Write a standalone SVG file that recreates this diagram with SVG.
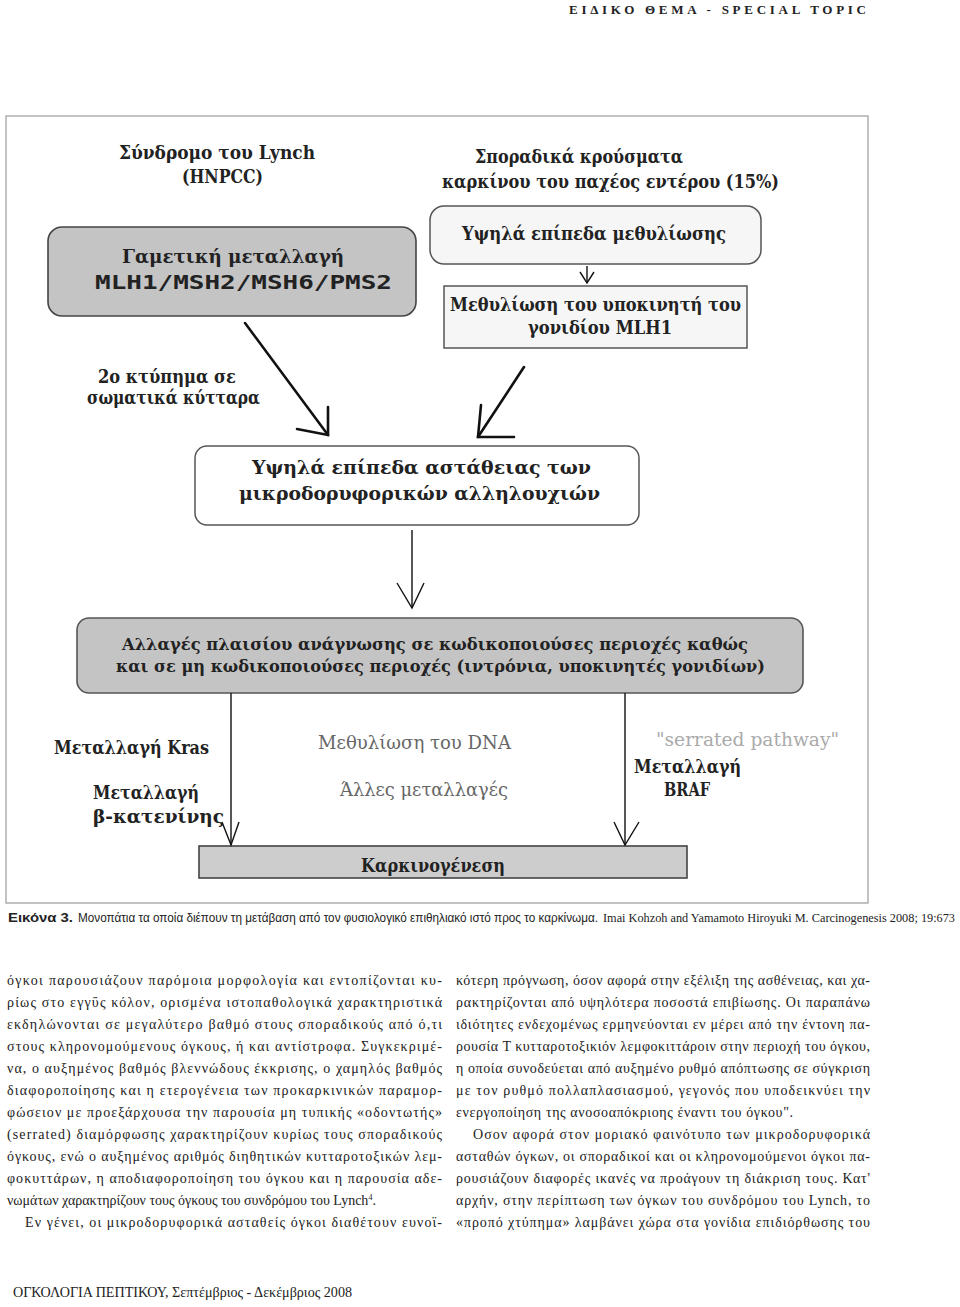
<svg xmlns="http://www.w3.org/2000/svg" width="960" height="1307" viewBox="0 0 960 1307">
<style>
.dt{font-family:"DejaVu Serif","Liberation Serif",serif;font-weight:bold;font-size:18px;fill:#222}
.mono{font-family:"DejaVu Sans Mono","Liberation Mono",monospace;font-weight:bold;font-size:20px;fill:#222}
.gr{font-family:"DejaVu Serif","Liberation Serif",serif;font-size:18px;fill:#666}
.lg{font-family:"DejaVu Serif","Liberation Serif",serif;font-size:18px;fill:#aaa}
.body{font-family:"Liberation Serif","Times New Roman",serif;font-size:14px;fill:#222}
.gbox{fill:#c4c4c4;stroke:#444;stroke-width:1.6}
.lbox{fill:#f6f6f6;stroke:#555;stroke-width:1.5}
.wbox{fill:#ffffff;stroke:#555;stroke-width:1.5}
.thick{stroke:#111;stroke-width:2.6;fill:none;stroke-linecap:round}
.thin{stroke:#111;stroke-width:1.4;fill:none}
</style>
<rect width="960" height="1307" fill="#ffffff"/>
<text x="569" y="14" textLength="297" lengthAdjust="spacing" style="font-family:'Liberation Serif',serif;font-weight:bold;font-size:13px;fill:#222">ΕΙΔΙΚΟ ΘΕΜΑ  -  SPECIAL TOPIC</text>
<rect x="6" y="116" width="862" height="787" fill="none" stroke="#aaa" stroke-width="1.4"/>
<g id="lynch-title">
<text class="dt" x="119" y="159" textLength="196" lengthAdjust="spacingAndGlyphs">Σύνδρομο του Lynch</text>
<text class="dt" x="182" y="183" textLength="81" lengthAdjust="spacingAndGlyphs">(HNPCC)</text>
</g>
<g id="sporadic-title">
<text class="dt" x="475" y="163" textLength="208" lengthAdjust="spacingAndGlyphs">Σποραδικά κρούσματα</text>
<text class="dt" x="442" y="188" textLength="337" lengthAdjust="spacingAndGlyphs">καρκίνου του παχέος εντέρου (15%)</text>
</g>
<g id="high-methylation">
<rect class="lbox" x="430" y="206" width="331" height="58" rx="14"/>
<text class="dt" x="462" y="240" textLength="264" lengthAdjust="spacingAndGlyphs">Υψηλά επίπεδα μεθυλίωσης</text>
</g>
<g id="mlh1-promoter">
<rect class="lbox" x="444" y="286" width="303" height="62"/>
<text class="dt" x="450" y="311" textLength="291" lengthAdjust="spacingAndGlyphs">Μεθυλίωση του υποκινητή του</text>
<text class="dt" x="528" y="334" textLength="144" lengthAdjust="spacingAndGlyphs">γονιδίου MLH1</text>
</g>
<g id="germline">
<rect class="gbox" x="48" y="227" width="368" height="89" rx="14"/>
<text class="dt" x="122" y="263" textLength="222" lengthAdjust="spacingAndGlyphs">Γαμετική μεταλλαγή</text>
<text class="mono" x="95" y="289" textLength="297" lengthAdjust="spacingAndGlyphs">MLH1/MSH2/MSH6/PMS2</text>
</g>
<g id="second-hit">
<text class="dt" x="98" y="383" textLength="138" lengthAdjust="spacingAndGlyphs">2ο κτύπημα σε</text>
<text class="dt" x="87" y="404" textLength="173" lengthAdjust="spacingAndGlyphs">σωματικά κύτταρα</text>
</g>
<g id="msi">
<rect class="wbox" x="195" y="446" width="444" height="79" rx="12"/>
<text class="dt" x="252" y="474" textLength="339" lengthAdjust="spacingAndGlyphs">Υψηλά επίπεδα αστάθειας των</text>
<text class="dt" x="239" y="500" textLength="361" lengthAdjust="spacingAndGlyphs">μικροδορυφορικών αλληλουχιών</text>
</g>
<g id="frameshift">
<rect class="gbox" x="77" y="618" width="726" height="75" rx="12" style="stroke:#555"/>
<text class="dt" x="122" y="650" textLength="626" lengthAdjust="spacingAndGlyphs" style="font-size:17px">Αλλαγές πλαισίου ανάγνωσης σε κωδικοποιούσες περιοχές καθώς</text>
<text class="dt" x="116" y="672" textLength="649" lengthAdjust="spacingAndGlyphs" style="font-size:17px">και σε μη κωδικοποιούσες περιοχές (ιντρόνια, υποκινητές γονιδίων)</text>
</g>
<g id="kras">
<text class="dt" x="54" y="754" textLength="155" lengthAdjust="spacingAndGlyphs">Μεταλλαγή Kras</text>
<text class="dt" x="93" y="799" textLength="106" lengthAdjust="spacingAndGlyphs">Μεταλλαγή</text>
<text class="dt" x="93" y="823" textLength="131" lengthAdjust="spacingAndGlyphs">β-κατενίνης</text>
</g>
<g id="dna-methylation">
<text class="gr" x="318" y="749" textLength="193" lengthAdjust="spacingAndGlyphs">Μεθυλίωση του DNA</text>
<text class="gr" x="340" y="796" textLength="168" lengthAdjust="spacingAndGlyphs">Άλλες μεταλλαγές</text>
</g>
<g id="serrated">
<text class="lg" x="656" y="746" textLength="183" lengthAdjust="spacingAndGlyphs">"serrated pathway"</text>
<text class="dt" x="634" y="773" textLength="107" lengthAdjust="spacingAndGlyphs">Μεταλλαγή</text>
<text class="dt" x="664" y="796" textLength="46" lengthAdjust="spacingAndGlyphs">BRAF</text>
</g>
<g id="carcinogenesis">
<rect class="gbox" x="199" y="846" width="488" height="32" style="fill:#cdcdcd"/>
<text class="dt" x="361" y="872" textLength="144" lengthAdjust="spacingAndGlyphs">Καρκινογένεση</text>
</g>
<g id="connectors">
<line class="thin" x1="587" y1="266" x2="587" y2="283"/>
<polyline class="thin" points="580,272 587,283 594,272"/>
<line class="thick" x1="245" y1="323" x2="328" y2="435"/>
<polyline class="thick" points="328,407 328,435 297,429"/>
<line class="thick" x1="524" y1="367" x2="478" y2="437"/>
<polyline class="thick" points="481,405 478,437 514,437"/>
<line class="thin" x1="412" y1="530" x2="412" y2="608"/>
<polyline class="thin" points="397,583 412,608 424,583"/>
<line class="thin" x1="231" y1="693" x2="231" y2="845"/>
<polyline class="thin" points="222,822 231,845 239,822"/>
<line class="thin" x1="625" y1="693" x2="625" y2="845"/>
<polyline class="thin" points="614,822 625,845 639,822"/>
</g>
<text x="8" y="922" textLength="65" lengthAdjust="spacingAndGlyphs" style="font-family:'Liberation Sans',sans-serif;font-weight:bold;font-size:13px;fill:#222">Εικόνα 3.</text>
<text x="78" y="922" textLength="520" lengthAdjust="spacingAndGlyphs" style="font-family:'Liberation Sans',sans-serif;font-size:12.5px;fill:#222">Μονοπάτια τα οποία διέπουν τη μετάβαση από τον φυσιολογικό επιθηλιακό ιστό προς το καρκίνωμα.</text>
<text x="603" y="922" textLength="352" lengthAdjust="spacingAndGlyphs" style="font-family:'Liberation Serif',serif;font-size:12px;fill:#222">Imai Kohzoh and Yamamoto Hiroyuki M. Carcinogenesis 2008; 19:673</text>
<g class="body">
<text class="body" x="7" y="985" textLength="435" lengthAdjust="spacing">όγκοι παρουσιάζουν παρόμοια μορφολογία και εντοπίζονται κυ-</text>
<text class="body" x="7" y="1007" textLength="435" lengthAdjust="spacing">ρίως στο εγγΰς κόλον, ορισμένα ιστοπαθολογικά χαρακτηριστικά</text>
<text class="body" x="7" y="1029" textLength="435" lengthAdjust="spacing">εκδηλώνονται σε μεγαλύτερο βαθμό στους σποραδικούς από ό,τι</text>
<text class="body" x="7" y="1051" textLength="435" lengthAdjust="spacing">στους κληρονομούμενους όγκους, ή και αντίστροφα. Συγκεκριμέ-</text>
<text class="body" x="7" y="1073" textLength="435" lengthAdjust="spacing">να, ο αυξημένος βαθμός βλεννώδους έκκρισης, ο χαμηλός βαθμός</text>
<text class="body" x="7" y="1095" textLength="435" lengthAdjust="spacing">διαφοροποίησης και η ετερογένεια των προκαρκινικών παραμορ-</text>
<text class="body" x="7" y="1117" textLength="435" lengthAdjust="spacing">φώσειον με προεξάρχουσα την παρουσία μη τυπικής «οδοντωτής»</text>
<text class="body" x="7" y="1139" textLength="435" lengthAdjust="spacing">(serrated) διαμόρφωσης χαρακτηρίζουν κυρίως τους σποραδικούς</text>
<text class="body" x="7" y="1161" textLength="435" lengthAdjust="spacing">όγκους, ενώ ο αυξημένος αριθμός διηθητικών κυτταροτοξικών λεμ-</text>
<text class="body" x="7" y="1183" textLength="435" lengthAdjust="spacing">φοκυττάρων, η αποδιαφοροποίηση του όγκου και η παρουσία αδε-</text>
<text class="body" x="7" y="1205">νωμάτων χαρακτηρίζουν τους όγκους του συνδρόμου του Lynch<tspan dy="-5" style="font-size:8px">4</tspan><tspan dy="5">.</tspan></text>
<text class="body" x="25" y="1227" textLength="417" lengthAdjust="spacing">Εν γένει, οι μικροδορυφορικά ασταθείς όγκοι διαθέτουν ευνοϊ-</text>
<text class="body" x="456" y="985" textLength="414" lengthAdjust="spacing">κότερη πρόγνωση, όσον αφορά στην εξέλιξη της ασθένειας, και χα-</text>
<text class="body" x="456" y="1007" textLength="414" lengthAdjust="spacing">ρακτηρίζονται από υψηλότερα ποσοστά επιβίωσης. Οι παραπάνω</text>
<text class="body" x="456" y="1029" textLength="414" lengthAdjust="spacing">ιδιότητες ενδεχομένως ερμηνεύονται εν μέρει από την έντονη πα-</text>
<text class="body" x="456" y="1051" textLength="414" lengthAdjust="spacing">ρουσία Τ κυτταροτοξικιόν λεμφοκιττάροιν στην περιοχή του όγκου,</text>
<text class="body" x="456" y="1073" textLength="414" lengthAdjust="spacing">η οποία συνοδεύεται από αυξημένο ρυθμό απόπτωσης σε σύγκριση</text>
<text class="body" x="456" y="1095" textLength="414" lengthAdjust="spacing">με τον ρυθμό πολλαπλασιασμού, γεγονός που υποδεικνύει την</text>
<text class="body" x="456" y="1117" textLength="337" lengthAdjust="spacing">ενεργοποίηση της ανοσοαπόκριοης έναντι του όγκου".</text>
<text class="body" x="473" y="1139" textLength="397" lengthAdjust="spacing">Οσον αφορά στον μοριακό φαινότυπο των μικροδορυφορικά</text>
<text class="body" x="456" y="1161" textLength="414" lengthAdjust="spacing">ασταθών όγκων, οι σποραδικοί και οι κληρονομούμενοι όγκοι πα-</text>
<text class="body" x="456" y="1183" textLength="414" lengthAdjust="spacing">ρουσιάζουν διαφορές ικανές να προάγουν τη διάκριση τους. Κατ'</text>
<text class="body" x="456" y="1205" textLength="414" lengthAdjust="spacing">αρχήν, στην περίπτωση των όγκων του συνδρόμου του Lynch, το</text>
<text class="body" x="456" y="1227" textLength="414" lengthAdjust="spacing">«προπό χτύπημα» λαμβάνει χώρα στα γονίδια επιδιόρθωσης του</text>
</g>
<text x="13" y="1297" textLength="339" lengthAdjust="spacingAndGlyphs" style="font-family:'Liberation Serif',serif;font-size:15px;fill:#222">ΟΓΚΟΛΟΓΙΑ ΠΕΠΤΙΚΟΥ, Σεπτέμβριος - Δεκέμβριος 2008</text>
</svg>
